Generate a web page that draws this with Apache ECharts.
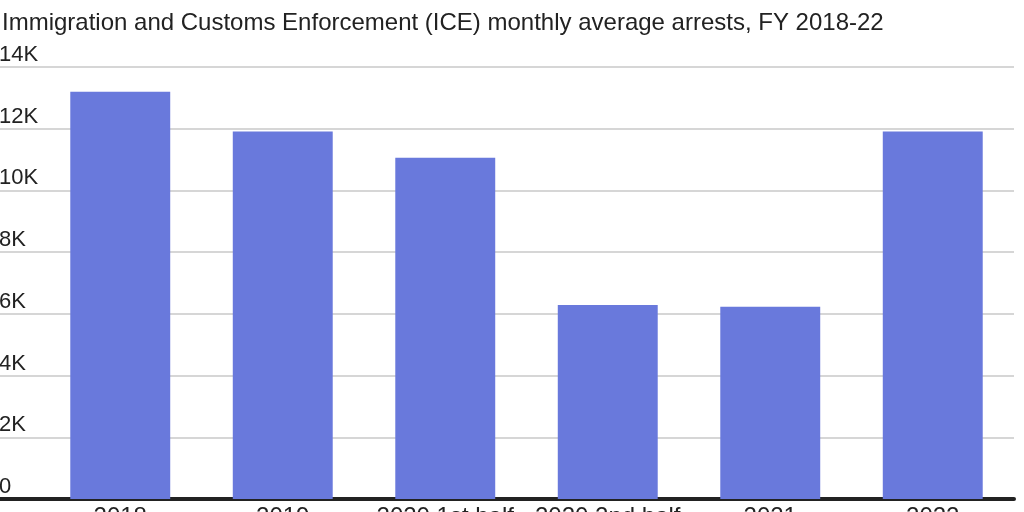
<!DOCTYPE html>
<html>
<head>
<meta charset="utf-8">
<script src="https://cdn.jsdelivr.net/npm/echarts@6/dist/echarts.min.js"></script>
<style>html,body{margin:0;padding:0;background:#fff}#c{width:1024px;height:512px}</style>
</head>
<body>
<div id="c"></div>
<script>
const categories = ["2018", "2019", "2020 1st half", "2020 2nd half", "2021", "2022"];
const arrests = [13200, 11910, 11060, 6290, 6230, 11910];
const yTicks = [0, 2000, 4000, 6000, 8000, 10000, 12000, 14000];
const titleText = "Immigration and Customs Enforcement (ICE) monthly average arrests, FY 2018-22";

const FONT = "Liberation Sans";
const chart = echarts.init(document.getElementById('c'));
chart.setOption({
  animation: false,
  title: {
    text: titleText, left: -3, top: 6,
    textStyle: {fontFamily: FONT, fontSize: 24, fontWeight: 'normal', color: '#222'}
  },
  grid: [
    {left: 0, right: 10, top: 67, bottom: 13, outerBoundsMode: 'none', containLabel: false},
    {left: 39, right: 10, top: 67, bottom: 13, outerBoundsMode: 'none', containLabel: false}
  ],
  xAxis: [
    {gridIndex: 0, type: 'value', min: 0, max: 1,
     axisLine: {show: true, onZero: false, lineStyle: {color: '#222', width: 4}},
     axisTick: {show: false}, axisLabel: {show: false}, splitLine: {show: false}},
    {gridIndex: 1, type: 'category', data: categories,
     axisLine: {show: false}, axisTick: {show: false},
     axisLabel: {interval: 0, hideOverlap: false, fontFamily: FONT, fontSize: 24, color: '#222', margin: 6}}
  ],
  yAxis: [
    {gridIndex: 0, type: 'value', min: 0, max: 14000, interval: 2000,
     axisLine: {show: false}, axisTick: {show: false},
     splitLine: {lineStyle: {color: '#d6d6d6', width: 2}},
     axisLabel: {inside: true, verticalAlign: 'bottom', margin: -1, padding: [0,0,1,0],
       fontFamily: FONT, fontSize: 22, color: '#222',
       formatter: v => yTicks.includes(v) ? (v === 0 ? '0' : (v/1000) + 'K') : ''}},
    {gridIndex: 1, type: 'value', min: 0, max: 14000, interval: 2000, show: false,
     splitLine: {show: false}}
  ],
  series: [{
    type: 'bar', xAxisIndex: 1, yAxisIndex: 1, data: arrests,
    barWidth: '61.5%',
    itemStyle: {color: '#6979dc'}
  }]
});
</script>
</body>
</html>
